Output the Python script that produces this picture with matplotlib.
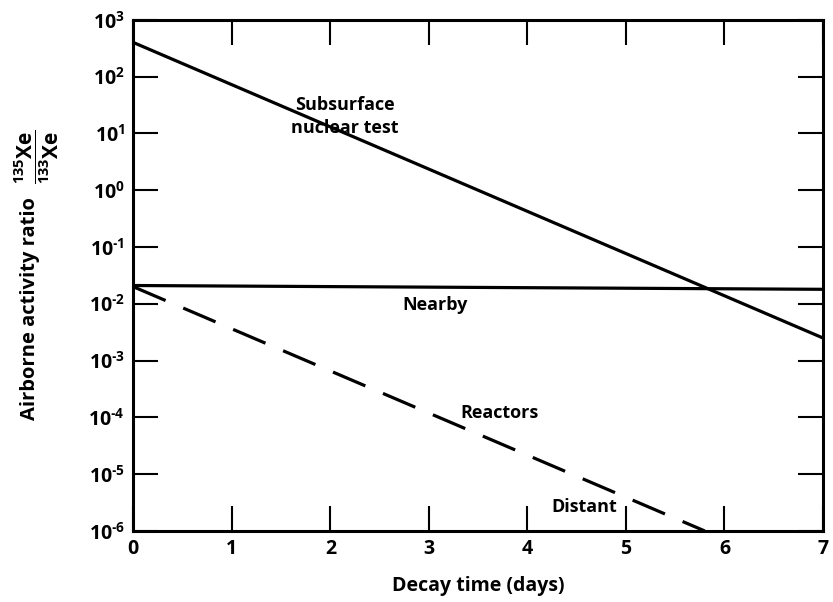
import matplotlib
matplotlib.use("Agg")
import matplotlib.pyplot as plt
import numpy as np

plt.rcParams['font.family'] = ['Open Sans']
plt.rcParams['font.weight'] = 'bold'
plt.rcParams['mathtext.fontset'] = 'custom'
plt.rcParams['mathtext.rm'] = 'Open Sans:bold'
plt.rcParams['mathtext.it'] = 'Open Sans:bold'
plt.rcParams['mathtext.bf'] = 'Open Sans:bold'
plt.rcParams['mathtext.default'] = 'rm'

# Data
subsurface_x = [0, 7]
subsurface_y = [400, 2.5e-3]
nearby_x = [0, 7]
nearby_y = [0.021, 0.018]
distant_x = [0, 5.8]
distant_y = [0.02, 1e-6]

x_ticks = [0, 1, 2, 3, 4, 5, 6, 7]
y_exps = [-6, -5, -4, -3, -2, -1, 0, 1, 2, 3]

fig = plt.figure(figsize=(8.33, 6.02), dpi=100)
ax = fig.add_axes([0.16, 0.118, 0.828, 0.849])

lw = 2.3
ax.plot(subsurface_x, subsurface_y, color='black', lw=lw)
ax.plot(nearby_x, nearby_y, color='black', lw=lw)
ax.plot(distant_x, distant_y, color='black', lw=lw, dashes=(11, 6))

ax.set_yscale('log')
ax.set_xlim(0, 7)
ax.set_ylim(1e-6, 1e3)
ax.set_xticks(x_ticks)
ax.set_xticklabels([str(t) for t in x_ticks])
ax.set_yticks([10.0**e for e in y_exps])
ax.set_yticklabels([r'$10^{%s}$' % (str(e).replace('-', '\u2010')) for e in y_exps])
ax.minorticks_off()
ax.tick_params(axis='both', which='major', direction='in', length=18, width=1.5,
               top=True, right=True, labelsize=14, pad=6)
for s in ax.spines.values():
    s.set_linewidth(2.2)

ax.text(2.15, 20, 'Subsurface\nnuclear test', ha='center', va='center', fontsize=13, fontweight='bold', linespacing=1.35)
ax.text(3.06, 0.0095, 'Nearby', ha='center', va='center', fontsize=13, fontweight='bold')
ax.text(3.72, 1.2e-4, 'Reactors', ha='center', va='center', fontsize=13, fontweight='bold')
ax.text(4.58, 2.6e-6, 'Distant', ha='center', va='center', fontsize=13, fontweight='bold')

ax.set_xlabel('Decay time (days)', fontsize=14, fontweight='bold', labelpad=12)
fig.text(30/833, 1 - 309/602, 'Airborne activity ratio', rotation=90, ha='center', va='center',
         fontsize=14.5, fontweight='bold')
fig.text(37/833, 1 - 157/602, r'$\dfrac{^{135}\mathrm{Xe}}{^{133}\mathrm{Xe}}$', rotation=90,
         ha='center', va='center', fontsize=15)

fig.savefig('out.png', dpi=100)
